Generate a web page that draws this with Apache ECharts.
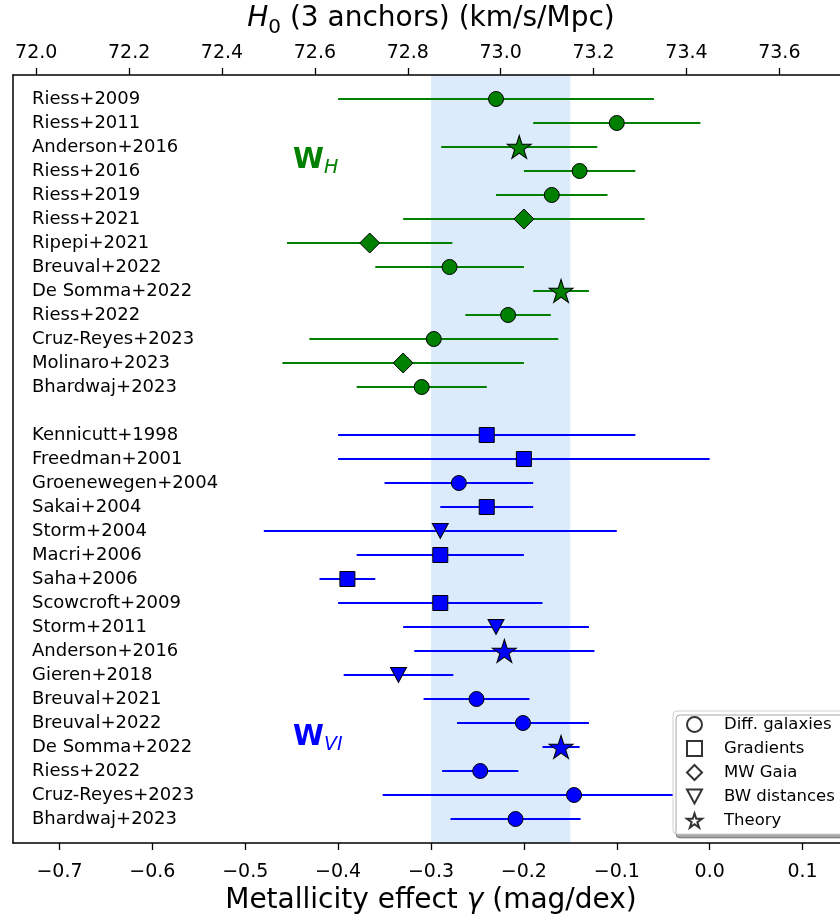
<!DOCTYPE html>
<html>
<head>
<meta charset="utf-8">
<script src="https://cdn.jsdelivr.net/npm/echarts@6/dist/echarts.min.js"></script>
<style>html,body{margin:0;padding:0;background:#fff;}#c{width:840px;height:917px;}</style>
</head>
<body>
<div id="c"></div>
<script>
// ---- data ----
const greenNames = ['Riess+2009','Riess+2011','Anderson+2016','Riess+2016','Riess+2019','Riess+2021','Ripepi+2021','Breuval+2022','De Somma+2022','Riess+2022','Cruz-Reyes+2023','Molinaro+2023','Bhardwaj+2023'];
const greenGamma = [-0.23,-0.10,-0.205,-0.14,-0.17,-0.20,-0.366,-0.28,-0.16,-0.217,-0.297,-0.33,-0.31];
const greenErr   = [0.17,0.09,0.084,0.06,0.06,0.13,0.089,0.08,0.03,0.046,0.134,0.13,0.07];
const greenMethod = ['diff','diff','theory','diff','diff','gaia','gaia','diff','theory','diff','diff','gaia','diff'];

const blueNames = ['Kennicutt+1998','Freedman+2001','Groenewegen+2004','Sakai+2004','Storm+2004','Macri+2006','Saha+2006','Scowcroft+2009','Storm+2011','Anderson+2016','Gieren+2018','Breuval+2021','Breuval+2022','De Somma+2022','Riess+2022','Cruz-Reyes+2023','Bhardwaj+2023'];
const blueGamma = [-0.24,-0.20,-0.27,-0.24,-0.29,-0.29,-0.39,-0.29,-0.23,-0.221,-0.335,-0.251,-0.201,-0.16,-0.247,-0.146,-0.209];
const blueErr   = [0.16,0.20,0.08,0.05,0.19,0.09,0.03,0.11,0.10,0.097,0.059,0.057,0.071,0.02,0.041,0.206,0.07];
const blueMethod = ['grad','grad','diff','grad','bw','grad','grad','grad','bw','theory','bw','diff','diff','theory','diff','diff','diff'];

const bandRange = [-0.30, -0.15];
const bottomTicks = [-0.7,-0.6,-0.5,-0.4,-0.3,-0.2,-0.1,0.0,0.1];
const topTicks = [72.0,72.2,72.4,72.6,72.8,73.0,73.2,73.4,73.6];
const legendNames = {diff:'Diff. galaxies', grad:'Gradients', gaia:'MW Gaia', bw:'BW distances', theory:'Theory'};
const methodOrder = ['diff','grad','gaia','bw','theory'];

// ---- styles ----
const FONT = '"DejaVu Sans", "Liberation Sans", sans-serif';
const GREEN = '#008000', BLUE = '#0000ff';
const STAR = 'path://M100,0 L122.45,69.1 L195.1,69.1 L136.33,111.8 L158.78,180.9 L100,138.2 L41.22,180.9 L63.67,111.8 L4.9,69.1 L77.55,69.1 Z';
const TRI = 'path://M0,0 L20,0 L10,18.5 Z';
const symbols = {
  diff:  {symbol:'circle', size:15},
  grad:  {symbol:'rect', size:15},
  gaia:  {symbol:'diamond', size:[20,20]},
  bw:    {symbol:TRI, size:[16,15]},
  theory:{symbol:STAR, size:[24,23]}
};
const legendIcons = {diff:'circle', grad:'rect', gaia:'diamond', bw:TRI, theory:STAR};

const blueOffset = greenNames.length + 1;
const rowNames = {};
greenNames.forEach((n,i)=>{ rowNames[i]=n; });
blueNames.forEach((n,i)=>{ rowNames[blueOffset+i]=n; });
const rowIdx = Object.keys(rowNames).map(Number);

const greenErrData = greenGamma.map((v,i)=>[v, greenErr[i], i]);
const blueErrData = blueGamma.map((v,i)=>[v, blueErr[i], blueOffset+i]);
function ptData(g, m, off){
  return g.map((v,i)=>({value:[v, off+i], symbol:symbols[m[i]].symbol, symbolSize:symbols[m[i]].size}));
}
function errRender(color){
  return function(params, api){
    const c = api.value(0), e = api.value(1), r = api.value(2);
    const p1 = api.coord([c-e, r]), p2 = api.coord([c+e, r]);
    return {type:'line', shape:{x1:p1[0], y1:p1[1], x2:p2[0], y2:p2[1]}, style:{stroke:color, lineWidth:1.8}};
  };
}
const fmtGamma = v => (v < -1e-9 ? '\u2212' : '') + Math.abs(v).toFixed(1);

const chart = echarts.init(document.getElementById('c'), null, {renderer:'canvas'});
const option = {
  backgroundColor:'#fff',
  animation:false,
  textStyle:{fontFamily:FONT},
  grid:{left:13, top:75, width:836, height:768, containLabel:false, outerBoundsMode:'none'},
  xAxis:[
    {type:'value', position:'bottom', min:-0.75, max:0.15, z:5,
     axisLine:{show:true, onZero:false, lineStyle:{color:'#000', width:1.5}},
     axisTick:{show:true, length:7, customValues:bottomTicks, lineStyle:{color:'#000', width:1.3}},
     axisLabel:{customValues:bottomTicks, formatter:fmtGamma, fontSize:19, color:'#000', fontFamily:FONT, margin:20},
     splitLine:{show:false},
     name:'Metallicity effect {i|γ} (mag/dex)', nameLocation:'middle', nameGap:43,
     nameTextStyle:{fontSize:28, color:'#000', fontFamily:FONT, rich:{i:{fontStyle:'italic', fontSize:28, fontFamily:FONT}}}
    },
    {type:'value', position:'top', min:71.95, max:73.75, z:5,
     axisLine:{show:true, onZero:false, lineStyle:{color:'#000', width:1.5}},
     axisTick:{show:true, length:7, customValues:topTicks, lineStyle:{color:'#000', width:1.3}},
     axisLabel:{customValues:topTicks, formatter:v=>v.toFixed(1), fontSize:19, color:'#000', fontFamily:FONT, margin:12},
     splitLine:{show:false},
     name:'{i|H}{s|0}{n| (3 anchors) (km/s/Mpc)}', nameLocation:'middle', nameGap:37,
     nameTextStyle:{fontSize:28, color:'#000', fontFamily:FONT, rich:{
       i:{fontStyle:'italic', fontSize:28, fontFamily:FONT, color:'#000', verticalAlign:'bottom', padding:[0,0,5,0]},
       s:{fontSize:20, fontFamily:FONT, color:'#000', verticalAlign:'bottom'},
       n:{fontSize:28, fontFamily:FONT, color:'#000', verticalAlign:'bottom', padding:[0,0,5,0]}
     }}
    }
  ],
  yAxis:{type:'value', inverse:true, min:-1, max:31, z:5,
    axisLine:{show:true, onZero:false, lineStyle:{color:'#000', width:1.5}},
    axisTick:{show:false},
    splitLine:{show:false},
    axisLabel:{inside:true, customValues:rowIdx, formatter:v=>rowNames[Math.round(v)]||'', fontSize:18, color:'#000', fontFamily:FONT, margin:19}
  },
  legend:{
    orient:'vertical', left:673, top:711, selectedMode:false,
    itemWidth:15, itemHeight:15, itemGap:7,
    padding:[5,14,5,13],
    backgroundColor:'#fff', borderColor:'#d0d0d0', borderWidth:1, borderRadius:4,
    shadowColor:'rgba(0,0,0,0.35)', shadowBlur:0, shadowOffsetX:3, shadowOffsetY:4,
    textStyle:{fontSize:16.5, lineHeight:15, color:'#000', fontFamily:FONT, padding:[0,0,0,17]},
    data: methodOrder.map(m=>({name:legendNames[m], icon:legendIcons[m]}))
  },
  graphic:[
    {type:'text', x:293, y:175, z:10, style:{text:'W', font:'bold 28px '+FONT, fill:GREEN, verticalAlign:'bottom'}},
    {type:'text', x:324, y:178, z:10, style:{text:'H', font:'italic 19px '+FONT, fill:GREEN, verticalAlign:'bottom'}},
    {type:'text', x:293, y:752, z:10, style:{text:'W', font:'bold 28px '+FONT, fill:BLUE, verticalAlign:'bottom'}},
    {type:'text', x:324, y:755, z:10, style:{text:'VI', font:'italic 19px '+FONT, fill:BLUE, verticalAlign:'bottom'}}
  ],
  series:[
    {type:'line', data:[], z:1, silent:true,
     markArea:{silent:true, itemStyle:{color:'#dbebfb'}, data:[[{xAxis:bandRange[0]},{xAxis:bandRange[1]}]]}},
    {type:'custom', name:'errG', data:greenErrData, renderItem:errRender(GREEN), z:2, silent:true, encode:{x:0, y:2}},
    {type:'custom', name:'errB', data:blueErrData, renderItem:errRender(BLUE), z:2, silent:true, encode:{x:0, y:2}},
    {type:'scatter', name:'ptsG', data:ptData(greenGamma, greenMethod, 0), z:3,
     itemStyle:{color:GREEN, borderColor:'#000', borderWidth:1, opacity:1}},
    {type:'scatter', name:'ptsB', data:ptData(blueGamma, blueMethod, blueOffset), z:3,
     itemStyle:{color:BLUE, borderColor:'#000', borderWidth:1, opacity:1}}
  ].concat(methodOrder.map(m=>({
     type:'scatter', name:legendNames[m], data:[], symbol:legendIcons[m],
     itemStyle:{color:'#fff', borderColor:'#000', borderWidth:1.8}
  })))
};
chart.setOption(option);
</script>
</body>
</html>
